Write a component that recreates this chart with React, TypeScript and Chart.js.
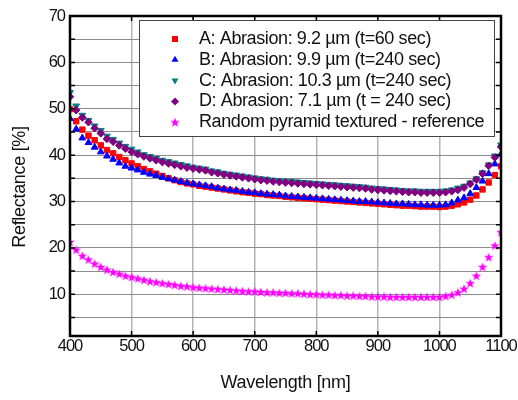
import React, { useEffect, useRef } from 'react';
import { Chart, registerables } from 'chart.js';

Chart.register(...registerables);

const wavelengths = [
  400, 410, 420, 430, 440, 450, 460, 470, 480, 490,
  500, 510, 520, 530, 540, 550, 560, 570, 580, 590,
  600, 610, 620, 630, 640, 650, 660, 670, 680, 690,
  700, 710, 720, 730, 740, 750, 760, 770, 780, 790,
  800, 810, 820, 830, 840, 850, 860, 870, 880, 890,
  900, 910, 920, 930, 940, 950, 960, 970, 980, 990,
  1000, 1010, 1020, 1030, 1040, 1050, 1060, 1070, 1080, 1090, 1100,
];

const seriesA = [
  49.9, 47.3, 45.5, 44.2, 43.2, 42.1, 41.1, 40.4, 39.6, 38.9,
  38.2, 37.6, 37.0, 36.5, 36.0, 35.5, 35.0, 34.6, 34.2, 33.9,
  33.7, 33.4, 33.2, 33.0, 32.8, 32.6, 32.4, 32.2, 32.0, 31.9,
  31.7, 31.6, 31.4, 31.3, 31.2, 31.0, 30.9, 30.8, 30.7, 30.6,
  30.5, 30.4, 30.3, 30.2, 30.1, 30.0, 29.9, 29.8, 29.7, 29.6,
  29.5, 29.4, 29.3, 29.2, 29.1, 29.1, 29.0, 28.9, 28.9, 28.9,
  28.8, 28.9, 29.1, 29.4, 29.8, 30.4, 31.3, 32.6, 34.1, 35.7, 37.6,
];

const seriesB = [
  47.9, 45.6, 43.7, 42.7, 41.7, 40.7, 39.8, 39.1, 38.3, 37.6,
  37.2, 36.8, 36.3, 35.9, 35.6, 35.2, 34.9, 34.6, 34.3, 34.0,
  33.8, 33.6, 33.4, 33.2, 32.9, 32.7, 32.5, 32.4, 32.2, 32.0,
  31.9, 31.7, 31.6, 31.5, 31.4, 31.2, 31.1, 31.0, 30.9, 30.8,
  30.7, 30.6, 30.5, 30.4, 30.3, 30.2, 30.1, 30.0, 30.0, 29.9,
  29.8, 29.7, 29.6, 29.5, 29.5, 29.4, 29.3, 29.3, 29.2, 29.2,
  29.2, 29.3, 29.7, 30.3, 30.8, 31.7, 33.0, 34.4, 36.0, 38.1, 40.2,
];

const seriesC = [
  53.5, 50.6, 48.6, 47.5, 46.3, 45.3, 44.1, 43.4, 42.6, 41.9,
  41.3, 40.7, 40.1, 39.7, 39.3, 38.9, 38.6, 38.3, 38.0, 37.7,
  37.4, 37.2, 37.0, 36.6, 36.4, 36.1, 35.9, 35.7, 35.5, 35.3,
  35.1, 34.9, 34.8, 34.6, 34.5, 34.4, 34.3, 34.2, 34.1, 34.0,
  33.9, 33.8, 33.7, 33.6, 33.5, 33.4, 33.3, 33.2, 33.1, 32.9,
  32.8, 32.7, 32.6, 32.5, 32.4, 32.3, 32.3, 32.2, 32.2, 32.2,
  32.2, 32.3, 32.5, 32.9, 33.3, 34.0, 34.9, 36.2, 37.9, 39.8, 42.2,
];

const seriesD = [
  52.6, 49.7, 48.1, 47.1, 45.8, 44.7, 43.5, 42.9, 42.1, 41.4,
  40.7, 40.2, 39.7, 39.3, 38.9, 38.5, 38.2, 37.9, 37.6, 37.3,
  37.1, 36.9, 36.7, 36.3, 36.1, 35.8, 35.6, 35.4, 35.2, 35.0,
  34.8, 34.6, 34.5, 34.3, 34.2, 34.1, 34.0, 33.9, 33.8, 33.7,
  33.6, 33.5, 33.4, 33.3, 33.2, 33.1, 33.0, 32.9, 32.8, 32.6,
  32.5, 32.4, 32.3, 32.2, 32.1, 32.0, 32.0, 31.9, 31.9, 31.9,
  31.9, 32.0, 32.2, 32.5, 33.0, 33.8, 34.7, 36.0, 37.7, 39.5, 41.8,
];

const seriesRef = [
  21.3, 19.6, 18.3, 17.5, 16.6, 15.9, 15.3, 14.8, 14.4, 14.0,
  13.7, 13.4, 13.1, 12.8, 12.6, 12.4, 12.2, 12.0, 11.8, 11.7,
  11.5, 11.4, 11.3, 11.2, 11.1, 11.0, 10.9, 10.8, 10.7, 10.6,
  10.6, 10.5, 10.4, 10.4, 10.3, 10.3, 10.2, 10.2, 10.1, 10.0,
  10.0, 9.9, 9.9, 9.8, 9.8, 9.7, 9.7, 9.6, 9.6, 9.5,
  9.5, 9.5, 9.4, 9.4, 9.4, 9.4, 9.4, 9.4, 9.4, 9.4,
  9.4, 9.6, 9.9, 10.4, 11.2, 12.4, 14.0, 15.9, 18.0, 20.5, 23.4,
];

const legendLabels = [
  'A: Abrasion: 9.2 µm (t=60 sec)',
  'B: Abrasion: 9.9 µm (t=240 sec)',
  'C: Abrasion: 10.3 µm (t=240 sec)',
  'D: Abrasion: 7.1 µm (t = 240 sec)',
  'Random pyramid textured - reference',
];

const xTickValues = [400, 500, 600, 700, 800, 900, 1000, 1100];
const yTickValues = [5, 10, 15, 20, 25, 30, 35, 40, 45, 50, 55, 60, 65, 70];

const xTitle = 'Wavelength [nm]';
const yTitle = 'Reflectance [%]';

const FONT = "Arial, 'Liberation Sans', sans-serif";
const colors = ['#ff0000', '#0000ff', '#008080', '#800080', '#ff00ff'];

function makeStar(color: string, size: number) {
  const c = document.createElement('canvas');
  c.width = size;
  c.height = size;
  const ctx = c.getContext('2d')!;
  const cx = size / 2;
  const cy = size / 2 + 0.4;
  const R = size / 2;
  const r = R * 0.42;
  ctx.beginPath();
  for (let i = 0; i < 10; i++) {
    const ang = -Math.PI / 2 + (i * Math.PI) / 5;
    const rad = i % 2 ? r : R;
    ctx.lineTo(cx + rad * Math.cos(ang), cy + rad * Math.sin(ang));
  }
  ctx.closePath();
  ctx.fillStyle = color;
  ctx.fill();
  return c;
}

export default function App() {
  const ref = useRef<HTMLCanvasElement | null>(null);

  useEffect(() => {
    const canvas = ref.current;
    if (!canvas) return;
    const star = makeStar(colors[4], 10);

    const toPts = (arr: number[]) => wavelengths.map((w, i) => ({ x: w, y: arr[i] }));

    const framePlugin = {
      id: 'frameAndLegend',
      beforeDraw(chart: any) {
        chart.ctx.letterSpacing = '-1px';
      },
      afterDraw(chart: any) {
        const { ctx, chartArea } = chart;
        const { left, right, top, bottom } = chartArea;
        const xs = chart.scales.x;
        const ys = chart.scales.y;
        ctx.save();
        // ticks
        ctx.strokeStyle = '#000';
        ctx.lineWidth = 1.5;
        ctx.beginPath();
        yTickValues.forEach((v) => {
          const py = ys.getPixelForValue(v);
          ctx.moveTo(left, py);
          ctx.lineTo(left + 5, py);
          ctx.moveTo(right, py);
          ctx.lineTo(right - 5, py);
        });
        xTickValues.forEach((v) => {
          const px = xs.getPixelForValue(v);
          ctx.moveTo(px, bottom);
          ctx.lineTo(px, bottom - 5);
          ctx.moveTo(px, top);
          ctx.lineTo(px, top + 5);
        });
        ctx.stroke();
        // frame
        ctx.lineWidth = 2.5;
        ctx.strokeRect(left, top, right - left, bottom - top);

        // axis titles
        ctx.letterSpacing = '-0.3px';
        ctx.font = `18px ${FONT}`;
        ctx.fillStyle = '#111';
        ctx.textAlign = 'center';
        ctx.textBaseline = 'middle';
        ctx.fillText(xTitle, (left + right) / 2, 383);
        ctx.save();
        ctx.translate(20.5, 187);
        ctx.rotate(-Math.PI / 2);
        ctx.fillText(yTitle, 0, 0);
        ctx.restore();

        // legend
        const lx = 139.5, ly = 20.5, lw = 355, lh = 116;
        ctx.fillStyle = '#fff';
        ctx.fillRect(lx, ly, lw, lh);
        ctx.strokeStyle = '#444';
        ctx.lineWidth = 1;
        ctx.strokeRect(lx, ly, lw, lh);
        ctx.letterSpacing = '-0.4px';
        ctx.font = `18px ${FONT}`;
        ctx.textAlign = 'left';
        ctx.textBaseline = 'middle';
        legendLabels.forEach((label, i) => {
          const cy = 39 + i * 20.8;
          const mx = 175;
          ctx.fillStyle = colors[i];
          ctx.beginPath();
          if (i === 0) {
            ctx.rect(mx - 3, cy - 3, 6, 6);
          } else if (i === 1) {
            ctx.moveTo(mx, cy - 4);
            ctx.lineTo(mx + 3.5, cy + 2);
            ctx.lineTo(mx - 3.5, cy + 2);
            ctx.closePath();
          } else if (i === 2) {
            ctx.moveTo(mx, cy + 4);
            ctx.lineTo(mx + 3.5, cy - 2);
            ctx.lineTo(mx - 3.5, cy - 2);
            ctx.closePath();
          } else if (i === 3) {
            ctx.moveTo(mx, cy - 4);
            ctx.lineTo(mx + 4, cy);
            ctx.lineTo(mx, cy + 4);
            ctx.lineTo(mx - 4, cy);
            ctx.closePath();
          }
          if (i < 4) ctx.fill();
          else ctx.drawImage(star, mx - 5, cy - 5, 10, 10);
          ctx.fillStyle = '#111';
          ctx.fillText(label, 199, cy);
        });
        ctx.restore();
        ctx.letterSpacing = '0px';
      },
    };

    const common = { showLine: false, pointBorderWidth: 1 };

    const chart = new Chart(canvas, {
      type: 'scatter',
      data: {
        datasets: [
          {
            ...common, label: legendLabels[0], data: toPts(seriesA), order: 4,
            pointStyle: 'rect', pointRadius: 3.8,
            backgroundColor: colors[0], borderColor: colors[0],
          },
          {
            ...common, label: legendLabels[1], data: toPts(seriesB), order: 3,
            pointStyle: 'triangle', pointRadius: 3.9,
            backgroundColor: colors[1], borderColor: colors[1],
          },
          {
            ...common, label: legendLabels[2], data: toPts(seriesC), order: 2,
            pointStyle: 'triangle', pointRotation: 180, pointRadius: 3.9,
            backgroundColor: colors[2], borderColor: colors[2],
          },
          {
            ...common, label: legendLabels[3], data: toPts(seriesD), order: 1,
            pointStyle: 'rectRot', pointRadius: 3.8,
            backgroundColor: colors[3], borderColor: colors[3],
          },
          {
            ...common, label: legendLabels[4], data: toPts(seriesRef), order: 0,
            pointStyle: star as any, pointRadius: 5,
            backgroundColor: colors[4], borderColor: colors[4],
          },
        ],
      },
      options: {
        animation: false,
        responsive: false,
        devicePixelRatio: 1,
        layout: { padding: { left: 0, right: 17, top: 16, bottom: 0 } },
        plugins: {
          legend: { display: false },
          tooltip: { enabled: false },
        },
        scales: {
          x: {
            type: 'linear',
            position: 'bottom',
            min: 400,
            max: 1100,
            afterBuildTicks: (s: any) => {
              s.ticks = xTickValues.map((v) => ({ value: v }));
            },
            afterFit: (s: any) => {
              s.height = 64;
              s.paddingLeft = 0;
              s.paddingRight = 0;
            },
            grid: { color: '#b4b4b4', lineWidth: 1.5, drawTicks: false },
            border: { display: false },
            ticks: {
              font: { family: FONT, size: 16.5 },
              color: '#111',
              padding: 1,
              maxRotation: 0,
              autoSkip: false,
              callback: (v: any) => String(v),
            },
            title: { display: false },
          },
          y: {
            type: 'linear',
            min: 1,
            max: 70,
            afterBuildTicks: (s: any) => {
              s.ticks = yTickValues.map((v) => ({ value: v }));
            },
            afterFit: (s: any) => {
              s.width = 70;
              s.paddingTop = 0;
              s.paddingBottom = 0;
            },
            grid: { color: '#8c8c8c', lineWidth: 1, drawTicks: false },
            border: { display: false },
            ticks: {
              font: { family: FONT, size: 16.5 },
              color: '#111',
              padding: 5,
              autoSkip: false,
              callback: (v: any) => (Number(v) % 10 === 0 ? String(v) : ''),
            },
          },
        },
      },
      plugins: [framePlugin],
    });

    return () => chart.destroy();
  }, []);

  return (
    <div style={{ position: 'absolute', left: 0, top: 0, width: 518, height: 400, background: '#fff' }}>
      <canvas ref={ref} width={518} height={400} style={{ display: 'block', width: 518, height: 400 }} />
    </div>
  );
}
